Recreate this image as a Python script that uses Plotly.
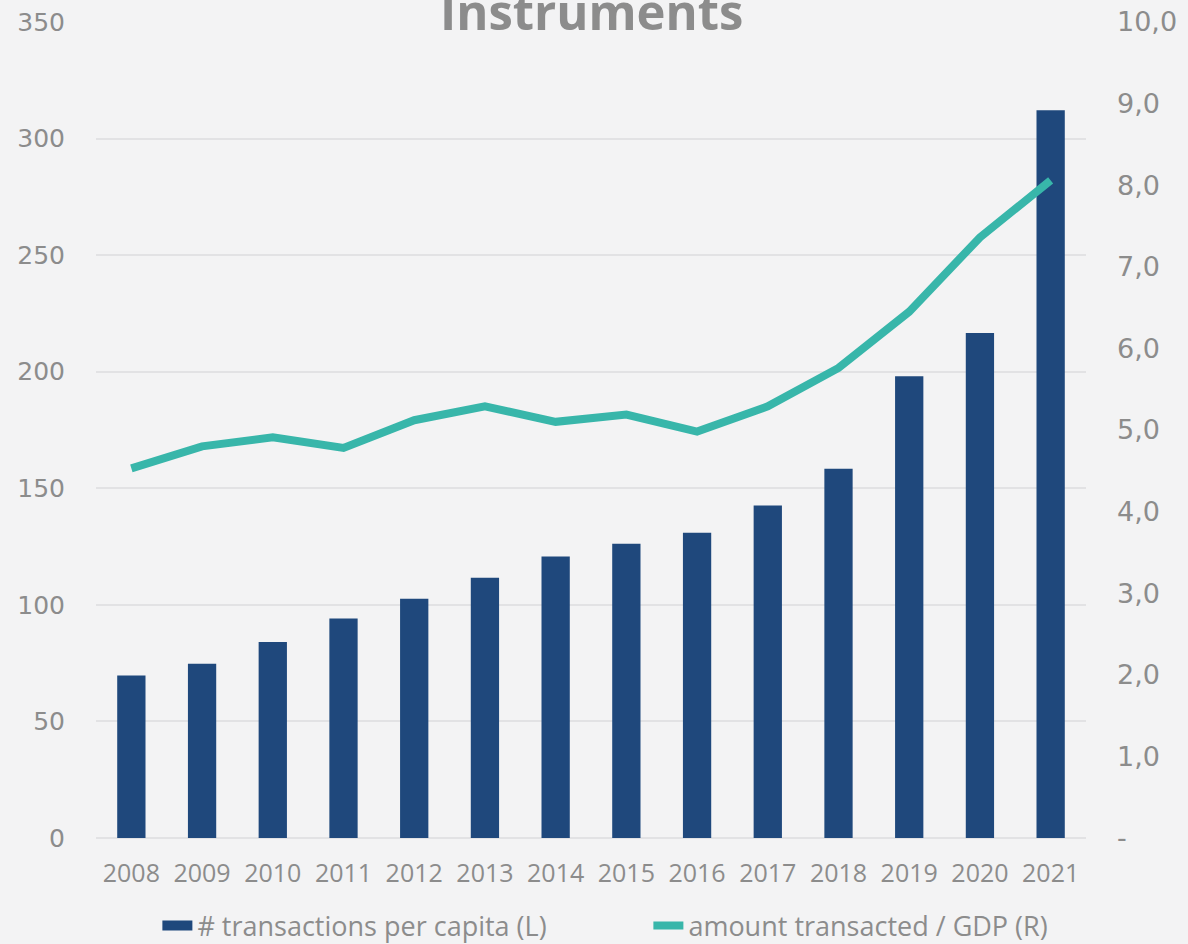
import plotly.graph_objects as go

years = ["2008", "2009", "2010", "2011", "2012", "2013", "2014",
         "2015", "2016", "2017", "2018", "2019", "2020", "2021"]
transactions_per_capita = [69.7, 74.7, 84.1, 94.1, 102.6, 111.6, 120.7,
                           126.2, 130.9, 142.6, 158.4, 198.1, 216.6, 312.1]
amount_to_gdp = [4.53, 4.80, 4.91, 4.78, 5.12, 5.29, 5.10,
                 5.19, 4.98, 5.29, 5.76, 6.45, 7.36, 8.06]

left_ticks = [0, 50, 100, 150, 200, 250, 300, 350]
right_ticks = [0, 1, 2, 3, 4, 5, 6, 7, 8, 9, 10]
right_tick_text = ["-", "1,0", "2,0", "3,0", "4,0", "5,0", "6,0", "7,0", "8,0", "9,0", "10,0"]

BAR = "#1f487c"
LINE = "#38b6aa"
TICK = "#8c8c8c"
GRID = "#e2e2e4"

fig = go.Figure()
fig.add_trace(go.Bar(
    x=years, y=transactions_per_capita,
    name="# transactions per capita (L)",
    marker=dict(color=BAR, line=dict(width=0)),
    width=0.4, yaxis="y", showlegend=False,
))
# legend swatch for the bars (wide rectangle as in the reference)
fig.add_trace(go.Scatter(
    x=[None], y=[None], mode="lines",
    name="# transactions per capita (L)",
    line=dict(color=BAR, width=15), yaxis="y", showlegend=True,
))
fig.add_trace(go.Scatter(
    x=years, y=amount_to_gdp,
    name="amount transacted / GDP (R)",
    mode="lines",
    line=dict(color=LINE, width=8),
    yaxis="y2",
))

fig.add_annotation(
    text="<b>Instruments</b>", xref="paper", yref="paper",
    x=0.5, y=0.970, xanchor="center", yanchor="bottom",
    showarrow=False, font=dict(family="Open Sans", size=49, color="#8c8c8c"),
)

fig.update_layout(
    width=1188, height=944,
    margin=dict(l=96, r=102, t=22, b=106, autoexpand=False),
    paper_bgcolor="#f3f3f4",
    plot_bgcolor="rgba(0,0,0,0)",
    showlegend=True,
    bargap=0.6,
    legend=dict(
        orientation="h", x=0.062, xanchor="left",
        yref="container", y=0.019, yanchor="middle",
        font=dict(family="Open Sans", size=27, color=TICK),
        bgcolor="rgba(0,0,0,0)", traceorder="normal",
        entrywidth=446, entrywidthmode="pixels",
    ),
    xaxis=dict(
        type="category",
        tickfont=dict(family="Open Sans", size=25, color=TICK),
        showgrid=False, showline=False, ticks="",
        ticklabelstandoff=18,
    ),
    yaxis=dict(
        range=[0, 350], tickvals=left_ticks,
        tickfont=dict(family="DejaVu Sans", size=25, color=TICK),
        showgrid=True, gridcolor=GRID, gridwidth=2,
        zeroline=True, zerolinecolor=GRID, zerolinewidth=2,
        showline=False, ticks="", ticklabelstandoff=30,
    ),
    yaxis2=dict(
        range=[0, 10], overlaying="y", side="right",
        tickvals=right_ticks, ticktext=right_tick_text,
        tickfont=dict(family="DejaVu Sans", size=27, color=TICK),
        showgrid=False, zeroline=False, showline=False, ticks="",
        ticklabelstandoff=30,
    ),
)

fig.write_html("out.html")
